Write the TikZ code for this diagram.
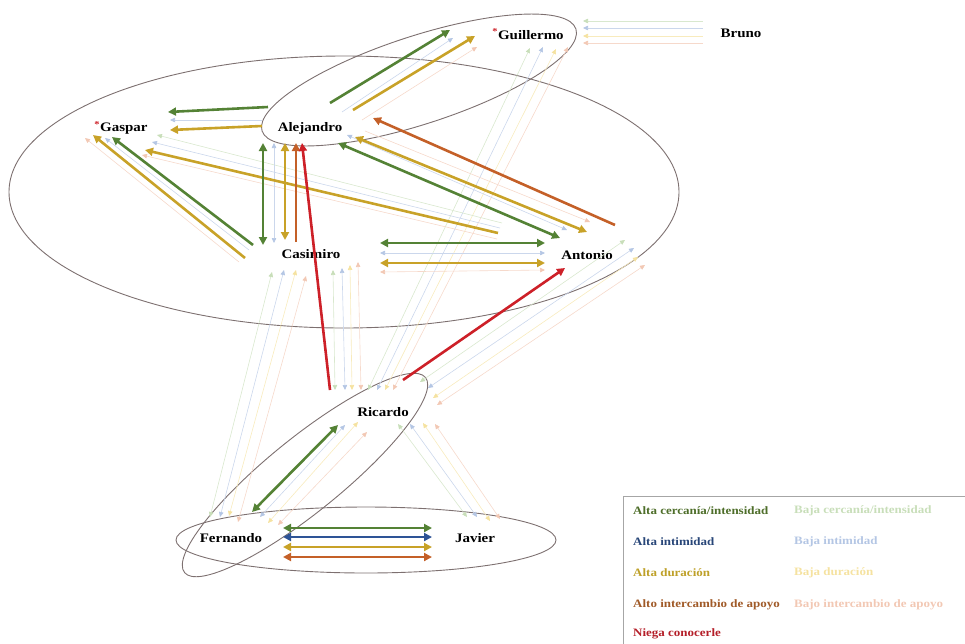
\documentclass[tikz,border=0pt]{standalone}
\usepackage{fontspec}
\setmainfont{Liberation Serif}[FakeStretch=1.15]
\usetikzlibrary{arrows.meta}

\definecolor{cerc}{RGB}{84,130,53}
\definecolor{intim}{RGB}{46,84,150}
\definecolor{dura}{RGB}{200,162,40}
\definecolor{apoyo}{RGB}{196,96,40}
\definecolor{niega}{RGB}{205,32,40}
\definecolor{lcerc}{RGB}{200,222,185}
\definecolor{lintim}{RGB}{180,198,228}
\definecolor{ldura}{RGB}{245,226,160}
\definecolor{lapoyo}{RGB}{242,200,180}
\definecolor{ringgray}{RGB}{125,112,112}
\definecolor{keycerc}{RGB}{78,110,42}
\definecolor{keyintim}{RGB}{40,70,120}
\definecolor{keydura}{RGB}{190,160,40}
\definecolor{keyapoyo}{RGB}{160,90,40}
\definecolor{keyniega}{RGB}{180,30,40}

\begin{document}
\begin{tikzpicture}[x=1pt, y=-1pt,
  person/.style={font=\fontsize{13}{15}\selectfont\bfseries, inner sep=1pt},
  grp/.style={draw=ringgray, line width=0.9pt},
  strong/.style={line width=2.6pt, #1, -{Triangle[length=8pt,width=8pt]}},
  strongboth/.style={line width=2.6pt, #1, {Triangle[length=8pt,width=8pt]}-{Triangle[length=8pt,width=8pt]}},
  weak/.style={line width=0.6pt, draw=#1!70, -{Triangle[length=5pt,width=4.5pt,color=#1]}},
  weakboth/.style={line width=0.6pt, draw=#1!70, {Triangle[length=5pt,width=4.5pt,color=#1]}-{Triangle[length=5pt,width=4.5pt,color=#1]}},
  key/.style={anchor=west, font=\fontsize{11.3}{13}\selectfont\bfseries, inner sep=0pt}
]
\useasboundingbox (0,0) rectangle (965,643);

% Groups
\draw[grp] (344,192) ellipse [x radius=335pt, y radius=136pt];
\draw[grp, rotate around={18:(419,80)}] (419,80) ellipse [x radius=165pt, y radius=44pt];
\draw[grp, rotate around={39:(305,475)}] (305,475) ellipse [x radius=155pt, y radius=37pt];
\draw[grp] (366,540) ellipse [x radius=190pt, y radius=33pt];

% People
\node[person] (guil) at (528,34) {\textcolor{niega}{\textsuperscript{*}}Guillermo};
\node[person] (bru) at (741,33) {Bruno};
\node[person] (gas) at (121,128) {\textcolor{niega}{\textsuperscript{*}}Gaspar};
\node[person] (ale) at (310,128) {Alejandro};
\node[person] (cas) at (311,254) {Casimiro};
\node[person] (ant) at (587,255) {Antonio};
\node[person] (ric) at (383,412) {Ricardo};
\node[person] (fer) at (231,538) {Fernando};
\node[person] (jav) at (475,538) {Javier};

% Weak ties
\draw[weak=lcerc] ([shift={(-38,-12)}]bru.center) -- ([shift={(55,-13)}]guil.center);
\draw[weak=lintim] ([shift={(-38,-5)}]bru.center) -- ([shift={(55,-6)}]guil.center);
\draw[weak=ldura] ([shift={(-38,3)}]bru.center) -- ([shift={(55,2)}]guil.center);
\draw[weak=lapoyo] ([shift={(-38,10)}]bru.center) -- ([shift={(55,9)}]guil.center);

\draw[weak=lintim] ([shift={(32,-16)}]ale.center) -- ([shift={(-75,4)}]guil.center);
\draw[weak=lapoyo] ([shift={(52,-8)}]ale.center) -- ([shift={(-51,13)}]guil.center);

\draw[weakboth=lcerc] ([shift={(-15,-22)}]ric.center) -- ([shift={(2,14)}]guil.center);
\draw[weakboth=lintim] ([shift={(-6,-22)}]ric.center) -- ([shift={(15,13)}]guil.center);
\draw[weakboth=ldura] ([shift={(2,-22)}]ric.center) -- ([shift={(28,15)}]guil.center);
\draw[weakboth=lapoyo] ([shift={(10,-22)}]ric.center) -- ([shift={(40,13)}]guil.center);

\draw[weakboth=lcerc] ([shift={(-48,-22)}]ric.center) -- ([shift={(22,16)}]cas.center);
\draw[weakboth=lintim] ([shift={(-38,-22)}]ric.center) -- ([shift={(31,14)}]cas.center);
\draw[weakboth=ldura] ([shift={(-31,-22)}]ric.center) -- ([shift={(39,11)}]cas.center);
\draw[weakboth=lapoyo] ([shift={(-22,-22)}]ric.center) -- ([shift={(47,8)}]cas.center);

\draw[weakboth=lcerc] ([shift={(-21,-21)}]fer.center) -- ([shift={(-39,18)}]cas.center);
\draw[weakboth=lintim] ([shift={(-11,-21)}]fer.center) -- ([shift={(-27,16)}]cas.center);
\draw[weakboth=ldura] ([shift={(-2,-22)}]fer.center) -- ([shift={(-15,16)}]cas.center);
\draw[weakboth=lapoyo] ([shift={(7,-16)}]fer.center) -- ([shift={(-5,22)}]cas.center);

\draw[weakboth=lintim] ([shift={(29,-21)}]fer.center) -- ([shift={(-38,13)}]ric.center);
\draw[weakboth=ldura] ([shift={(37,-15)}]fer.center) -- ([shift={(-25,10)}]ric.center);
\draw[weakboth=lapoyo] ([shift={(47,-13)}]fer.center) -- ([shift={(-16,20)}]ric.center);

\draw[weakboth=lcerc] ([shift={(-8,-21)}]jav.center) -- ([shift={(15,12)}]ric.center);
\draw[weakboth=lintim] ([shift={(2,-21)}]jav.center) -- ([shift={(27,12)}]ric.center);
\draw[weakboth=ldura] ([shift={(15,-17)}]jav.center) -- ([shift={(40,11)}]ric.center);
\draw[weakboth=lapoyo] ([shift={(25,-19)}]jav.center) -- ([shift={(52,12)}]ric.center);

\draw[weakboth=lcerc] ([shift={(37,-30)}]ric.center) -- ([shift={(38,-15)}]ant.center);
\draw[weakboth=lintim] ([shift={(45,-24)}]ric.center) -- ([shift={(47,-7)}]ant.center);
\draw[weakboth=ldura] ([shift={(50,-14)}]ric.center) -- ([shift={(51,2)}]ant.center);
\draw[weakboth=lapoyo] ([shift={(54,-7)}]ric.center) -- ([shift={(58,10)}]ant.center);

\draw[weak=lintim] ([shift={(-48,-8)}]ale.center) -- ([shift={(49,-8)}]gas.center);
\draw[weak=lintim] ([shift={(-62,-4)}]cas.center) -- ([shift={(-16,10)}]gas.center);
\draw[weak=lapoyo] ([shift={(-72,8)}]cas.center) -- ([shift={(-36,10)}]gas.center);
\draw[weak=lcerc] ([shift={(-85,-32)}]ant.center) -- ([shift={(36,7)}]gas.center);
\draw[weak=lintim] ([shift={(-87,-27)}]ant.center) -- ([shift={(31,14)}]gas.center);
\draw[weak=lapoyo] ([shift={(-90,-16)}]ant.center) -- ([shift={(21,27)}]gas.center);

\draw[weakboth=lintim] ([shift={(-36,15)}]ale.center) -- ([shift={(-37,-11)}]cas.center);
\draw[weakboth=lintim] ([shift={(37,7)}]ale.center) -- ([shift={(-20,-25)}]ant.center);
\draw[weak=lapoyo] ([shift={(55,3)}]ale.center) -- ([shift={(3,-33)}]ant.center);
\draw[weakboth=lintim] ([shift={(69,-1)}]cas.center) -- ([shift={(-42,-2)}]ant.center);
\draw[weakboth=lapoyo] ([shift={(69,18)}]cas.center) -- ([shift={(-42,15)}]ant.center);

% Strong ties
\draw[strong=cerc] ([shift={(20,-25)}]ale.center) -- ([shift={(-78,-4)}]guil.center);
\draw[strong=dura] ([shift={(43,-18)}]ale.center) -- ([shift={(-53,2)}]guil.center);
\draw[strong=cerc] ([shift={(-42,-21)}]ale.center) -- ([shift={(47,-16)}]gas.center);
\draw[strong=dura] ([shift={(-48,-2)}]ale.center) -- ([shift={(49,2)}]gas.center);
\draw[strong=cerc] ([shift={(-58,-9)}]cas.center) -- ([shift={(-9,9)}]gas.center);
\draw[strong=dura] ([shift={(-66,4)}]cas.center) -- ([shift={(-28,7)}]gas.center);
\draw[strong=dura] ([shift={(-89,-22)}]ant.center) -- ([shift={(24,22)}]gas.center);

\draw[strongboth=cerc] ([shift={(-47,15)}]ale.center) -- ([shift={(-48,-9)}]cas.center);
\draw[strongboth=dura] ([shift={(-25,15)}]ale.center) -- ([shift={(-26,-14)}]cas.center);
\draw[strong=apoyo] ([shift={(-15,-12)}]cas.center) -- ([shift={(-14,15)}]ale.center);
\draw[strong=niega] ([shift={(-53,-22)}]ric.center) -- ([shift={(-8,15)}]ale.center);

\draw[strongboth=cerc] ([shift={(28,15)}]ale.center) -- ([shift={(-27,-17)}]ant.center);
\draw[strongboth=dura] ([shift={(45,9)}]ale.center) -- ([shift={(0,-23)}]ant.center);
\draw[strong=apoyo] ([shift={(28,-30)}]ant.center) -- ([shift={(63,-10)}]ale.center);

\draw[strongboth=cerc] ([shift={(69,-11)}]cas.center) -- ([shift={(-42,-12)}]ant.center);
\draw[strongboth=dura] ([shift={(69,9)}]cas.center) -- ([shift={(-42,8)}]ant.center);
\draw[strong=niega] ([shift={(20,-32)}]ric.center) -- ([shift={(-22,13)}]ant.center);

\draw[strongboth=cerc] ([shift={(-45,13)}]ric.center) -- ([shift={(21,-26)}]fer.center);

\draw[strongboth=cerc] ([shift={(52,-10)}]fer.center) -- ([shift={(-43,-10)}]jav.center);
\draw[strongboth=intim] ([shift={(52,-1)}]fer.center) -- ([shift={(-43,-1)}]jav.center);
\draw[strongboth=dura] ([shift={(52,9)}]fer.center) -- ([shift={(-43,9)}]jav.center);
\draw[strongboth=apoyo] ([shift={(52,19)}]fer.center) -- ([shift={(-43,19)}]jav.center);

% Legend
\draw[draw=gray!70, line width=0.8pt] (623,496) rectangle (972,660);
\node[key, keycerc] (k1) at (633,511) {Alta cercanía/intensidad};
\node[key, lcerc] (k2) at (794,511) {Baja cercanía/intensidad};
\node[key, keyintim] (k3) at (633,542) {Alta intimidad};
\node[key, lintim] (k4) at (794,542) {Baja intimidad};
\node[key, keydura] (k5) at (633,573) {Alta duración};
\node[key, ldura] (k6) at (794,573) {Baja duración};
\node[key, keyapoyo] (k7) at (633,605) {Alto intercambio de apoyo};
\node[key, lapoyo] (k8) at (794,605) {Bajo intercambio de apoyo};
\node[key, keyniega] (k9) at (633,634) {Niega conocerle};

\end{tikzpicture}
\end{document}
